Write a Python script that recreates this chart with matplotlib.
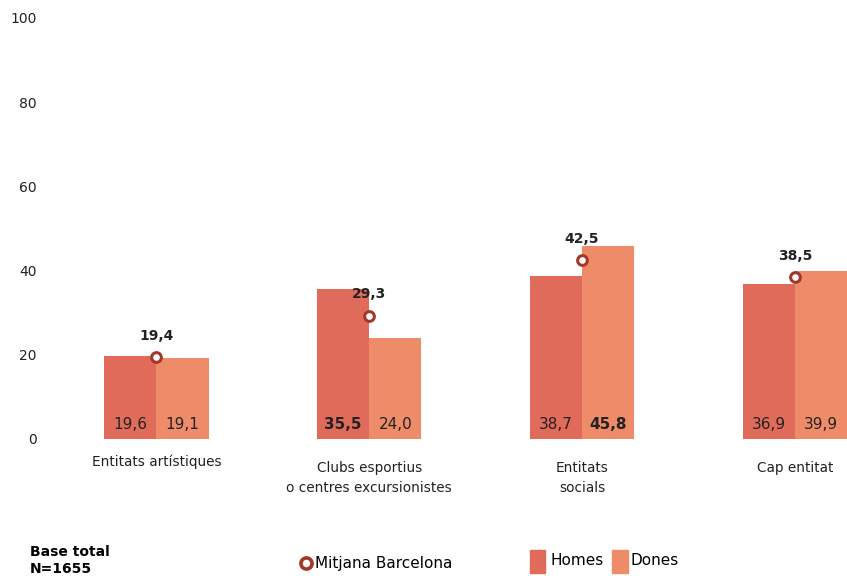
import matplotlib.pyplot as plt
from matplotlib.patches import Rectangle
from matplotlib.lines import Line2D

categories = ['Entitats artístiques', 'Clubs esportius\no centres excursionistes',
              'Entitats\nsocials', 'Cap entitat']
homes = [19.6, 35.5, 38.7, 36.9]
dones = [19.1, 24.0, 45.8, 39.9]
mitjana = [19.4, 29.3, 42.5, 38.5]
bold_homes = [False, True, False, False]
bold_dones = [False, False, True, False]

c_homes = '#E06B5B'
c_dones = '#EE8B69'
c_mean = '#A3372A'

fig = plt.figure(figsize=(8.47, 5.76), dpi=100)
ax = fig.add_axes([0.059, 0.238, 0.941, 0.731])

x = range(len(categories))
w = 0.245
ax.bar([i - w / 2 for i in x], homes, w, color=c_homes, edgecolor='none')
ax.bar([i + w / 2 for i in x], dones, w, color=c_dones, edgecolor='none')
ax.plot(list(x), mitjana, 'o', ms=7, mfc='white', mec=c_mean, mew=2.2, zorder=5)

for i in x:
    ax.text(i - w / 2, 3.5, f'{homes[i]:.1f}'.replace('.', ','), ha='center', va='center',
            fontsize=11, color='#222222', fontweight='bold' if bold_homes[i] else 'normal')
    ax.text(i + w / 2, 3.5, f'{dones[i]:.1f}'.replace('.', ','), ha='center', va='center',
            fontsize=11, color='#222222', fontweight='bold' if bold_dones[i] else 'normal')
    ax.text(i, mitjana[i] + 5, f'{mitjana[i]:.1f}'.replace('.', ','), ha='center',
            va='center', fontsize=10, fontweight='bold', color='#222222')

ax.set_xlim(-0.5, 3.245)
ax.set_ylim(0, 100)
ax.set_yticks([0, 20, 40, 60, 80, 100])
ax.tick_params(axis='y', length=0, labelsize=10, pad=9.5, labelcolor='#222222')
ax.set_xticks([])
for s in ax.spines.values():
    s.set_visible(False)

for i, lab in enumerate(categories):
    ax.text(i, -3.8 if i == 0 else -5.3, lab, ha='center', va='top', fontsize=9.8,
            linespacing=1.5, color='#222222')

# legend / footer
fig.text(0.035, 0.027, 'Base total\nN=1655', fontsize=10, fontweight='bold',
         va='center', linespacing=1.3)
fig.add_artist(Line2D([0.361], [0.022], marker='o', ms=8, mfc='white', mec=c_mean,
                      mew=2.6, transform=fig.transFigure))
fig.text(0.372, 0.022, 'Mitjana Barcelona', fontsize=11, va='center')
fig.add_artist(Rectangle((0.626, 0.005), 0.018, 0.04, color=c_homes, transform=fig.transFigure))
fig.text(0.650, 0.027, 'Homes', fontsize=11, va='center')
fig.add_artist(Rectangle((0.723, 0.005), 0.018, 0.04, color=c_dones, transform=fig.transFigure))
fig.text(0.744, 0.027, 'Dones', fontsize=11, va='center')

fig.savefig('out.png', dpi=100)
